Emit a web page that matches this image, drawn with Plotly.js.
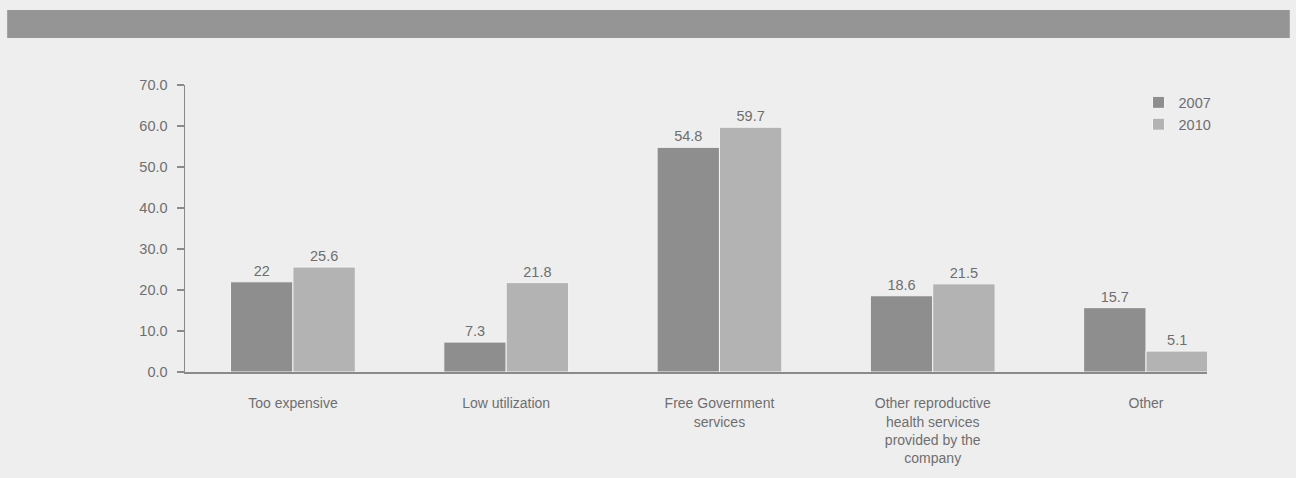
<!DOCTYPE html>
<html>
<head>
<meta charset="utf-8">
<script src="https://cdn.plot.ly/plotly-3.0.1.min.js"></script>
<style>
  html, body { margin: 0; padding: 0; background: #eeeeee; }
  #chart { width: 1296px; height: 478px; }
</style>
</head>
<body>
<div id="chart"></div>
<script>
const categories = [
  "Too expensive",
  "Low utilization",
  "Free Government<br>services",
  "Other reproductive<br>health services<br>provided by the<br>company",
  "Other"
];
const series2007 = [22, 7.3, 54.8, 18.6, 15.7];
const series2010 = [25.6, 21.8, 59.7, 21.5, 5.1];
const labels2007 = ["22", "7.3", "54.8", "18.6", "15.7"];
const labels2010 = ["25.6", "21.8", "59.7", "21.5", "5.1"];
const yTickVals = [0, 10, 20, 30, 40, 50, 60, 70];
const yTickText = ["0.0", "10.0", "20.0", "30.0", "40.0", "50.0", "60.0", "70.0"];

const idx = categories.map((_, i) => i);
const font = { family: "Liberation Sans, Arial, sans-serif", color: "#6e6e6e", size: 13 };

const traces = [
  {
    type: "bar", name: "2007", x: idx, y: series2007,
    text: labels2007, textposition: "outside", cliponaxis: false,
    textfont: { size: 14.5, color: "#6e6e6e" },
    marker: { color: "#8e8e8e", line: { color: "#f4f4f4", width: 1 } },
    hoverinfo: "none"
  },
  {
    type: "bar", name: "2010", x: idx, y: series2010,
    text: labels2010, textposition: "outside", cliponaxis: false,
    textfont: { size: 14.5, color: "#6e6e6e" },
    marker: { color: "#b3b3b3", line: { color: "#f4f4f4", width: 1 } },
    hoverinfo: "none"
  }
];

const layout = {
  width: 1296, height: 478,
  paper_bgcolor: "#eeeeee", plot_bgcolor: "#eeeeee",
  margin: { l: 185, r: 89, t: 85, b: 106, pad: 0 },
  font: font,
  barmode: "group", bargap: 0.415, bargroupgap: 0,
  showlegend: true,
  legend: {
    x: 0.933, y: 0.995, xanchor: "left", yanchor: "top",
    bgcolor: "rgba(0,0,0,0)", font: { size: 14.5, color: "#6e6e6e" },
    tracegroupgap: 0, itemwidth: 30
  },
  xaxis: {
    range: [-0.506, 4.286], tickvals: idx, ticktext: categories,
    showline: true, linecolor: "#8a8a8a", linewidth: 1.5,
    ticks: "outside", ticklen: 18, tickcolor: "rgba(0,0,0,0)",
    tickfont: { size: 14, color: "#6e6e6e" },
    showgrid: false, zeroline: false, fixedrange: true
  },
  yaxis: {
    range: [0, 70], tickvals: yTickVals, ticktext: yTickText,
    showline: true, linecolor: "#8a8a8a", linewidth: 1.5,
    ticks: "outside", ticklen: 7, tickcolor: "#8a8a8a", tickwidth: 1.5,
    ticklabelstandoff: 6,
    tickfont: { size: 14.5, color: "#6e6e6e" },
    showgrid: false, zeroline: false, fixedrange: true
  },
  shapes: [
    {
      type: "rect", xref: "paper", yref: "paper",
      x0: -0.174, x1: 1.081, y0: 1.164, y1: 1.261,
      fillcolor: "#959595", line: { width: 0 }, layer: "below"
    }
  ]
};

Plotly.newPlot("chart", traces, layout, { displayModeBar: false, staticPlot: true });
</script>
</body>
</html>
